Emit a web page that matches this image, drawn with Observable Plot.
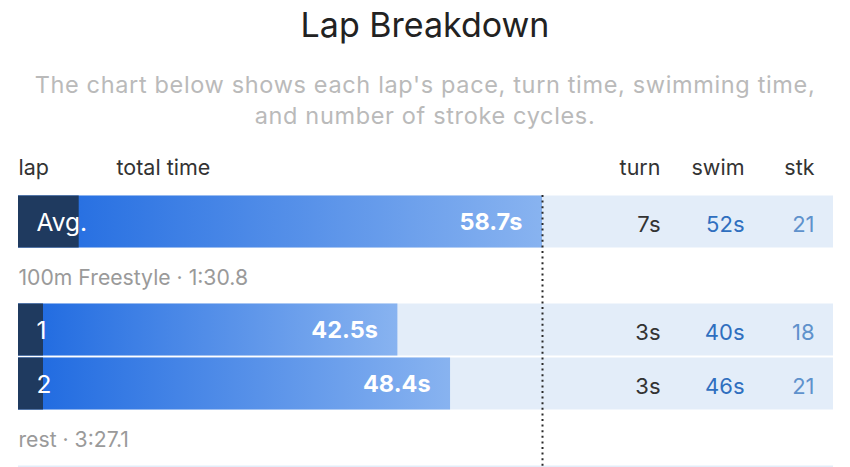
<!DOCTYPE html>
<html><head><meta charset="utf-8">
<script src="https://cdn.jsdelivr.net/npm/d3@7"></script>
<script src="https://cdn.jsdelivr.net/npm/@observablehq/plot@0.6"></script>
<style>
body{margin:0;background:#fff;font-family:Inter, sans-serif;overflow:hidden;}
#title{height:50px;line-height:50px;font-size:34px;text-align:center;color:#222;}
#sub{margin-top:18.5px;font-size:23.5px;line-height:31px;letter-spacing:0.65px;text-align:center;color:#bababa;}
#chart{margin-top:8px;}
#chart svg{display:block;}
</style></head><body>
<div id="title">Lap Breakdown</div>
<div id="sub">The chart below shows each lap's pace, turn time, swimming time,<br>and number of stroke cycles.</div>
<div id="chart"></div>
<script>
// ---- data ----
const laps = ["Avg.", "1", "2"];
const totalTime = [58.7, 42.5, 48.4];
const turnTime = [6.8, 2.8, 2.8];
const swimTime = [51.9, 39.7, 45.6];
const strokeCycles = [21, 18, 21];
const leftHeaders = ["lap", "total time"];
const rightHeaders = ["turn", "swim", "stk"];
const setNote = "100m Freestyle · 1:30.8";
const restNote = "rest · 3:27.1";
const slots = ["header", "Avg.", "set", "1", "2", "rest", "next"];
const shadedRows = ["Avg.", "1", "2", "next"];

// ---- build ----
const rows = laps.map((lap, i) => ({lap, total: totalTime[i], turn: turnTime[i], swim: swimTime[i], stk: strokeCycles[i]}));
const avgTotal = totalTime[0];
const leftDx = {"lap": 0, "total time": 98};
const rightDx = {"turn": -173, "swim": -89, "stk": -19};

const gradientDefs = () => {
  const defs = d3.create("svg:defs");
  const g = defs.append("linearGradient").attr("id", "lapGrad")
    .attr("x1", 0).attr("x2", 1).attr("y1", 0).attr("y2", 0);
  g.append("stop").attr("offset", "0%").attr("stop-color", "#1c68e0");
  g.append("stop").attr("offset", "100%").attr("stop-color", "#88b3f0");
  return defs.node();
};

const inset = {insetTop: 0.5, insetBottom: 1.5};
const rightCol = (key, fmt, fill) => Plot.text(rows, {
  y: "lap", text: fmt, frameAnchor: "right", textAnchor: "end",
  dx: rightDx[key], dy: 2, fill, fontSize: 22
});

const chart = Plot.plot({
  width: 850, height: 381.5,
  marginTop: 0, marginBottom: 0, marginLeft: 18, marginRight: 17,
  x: {domain: [0, avgTotal], range: [18, 542], axis: null},
  y: {domain: slots, padding: 0, axis: null},
  style: {fontFamily: "Inter, sans-serif", background: "white"},
  marks: [
    gradientDefs,
    Plot.cell(shadedRows, {y: d => d, fill: "#e3edf9", ...inset}),
    Plot.barX(rows, {y: "lap", x1: 0, x2: "total", fill: "url(#lapGrad)", ...inset}),
    Plot.barX(rows, {y: "lap", x1: 0, x2: "turn", fill: "#1f3a5f", ...inset}),
    Plot.ruleX([avgTotal], {x: d => d, y1: () => "Avg.", y2: () => "next", stroke: "#2a2a2a", strokeWidth: 2, strokeDasharray: "2,3.6"}),
    // headers
    ...leftHeaders.map(h => Plot.text([h], {y: () => "header", text: d => d, frameAnchor: "left", textAnchor: "start", dx: leftDx[h], fill: "#333", fontSize: 21.5})),
    ...rightHeaders.map(h => Plot.text([h], {y: () => "header", text: d => d, frameAnchor: "right", textAnchor: "end", dx: rightDx[h], fill: "#333", fontSize: 21.5})),
    // lap labels
    Plot.text(rows, {y: "lap", text: "lap", frameAnchor: "left", textAnchor: "start", dx: 18, dy: 1, fill: "white", fontSize: 24.5}),
    // totals
    Plot.text(rows, {y: "lap", x: "total", text: d => d.total.toFixed(1) + "s", textAnchor: "end", dx: -20, dy: 0, fill: "white", fontWeight: 700, fontSize: 23.5}),
    // right columns
    rightCol("turn", d => Math.round(d.turn) + "s", "#333"),
    rightCol("swim", d => Math.round(d.swim) + "s", "#2f6fbf"),
    rightCol("stk", d => String(d.stk), "#5f92cc"),
    // notes
    Plot.text([setNote], {y: () => "set", text: d => d, frameAnchor: "left", textAnchor: "start", dy: 2, fill: "#9a9a9a", fontSize: 21.2}),
    Plot.text([restNote], {y: () => "rest", text: d => d, frameAnchor: "left", textAnchor: "start", dy: 2, fill: "#9a9a9a", fontSize: 21.2})
  ]
});
document.getElementById("chart").append(chart);
</script>
</body></html>
